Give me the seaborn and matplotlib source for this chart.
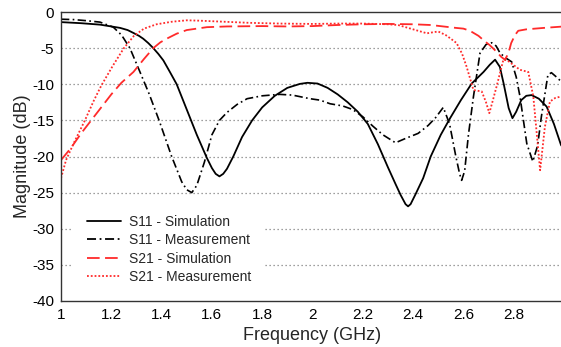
import matplotlib
matplotlib.use("Agg")
import matplotlib.pyplot as plt
import seaborn as sns

# ---- data ----
s11_sim_f = [1.00, 1.08, 1.155, 1.20, 1.235, 1.265, 1.288, 1.31, 1.327, 1.347, 1.367, 1.387, 1.407, 1.433, 1.46,
             1.50, 1.54, 1.58, 1.60, 1.615, 1.63, 1.645, 1.66, 1.685, 1.72, 1.76, 1.80, 1.85, 1.90, 1.95,
             1.98, 2.02, 2.06, 2.10, 2.14, 2.18, 2.22, 2.26, 2.30, 2.33, 2.35, 2.37, 2.38, 2.39, 2.41,
             2.44, 2.47, 2.51, 2.547, 2.59, 2.633, 2.68, 2.705, 2.726, 2.745, 2.76, 2.78, 2.795, 2.81, 2.83,
             2.85, 2.871, 2.90, 2.931, 2.96, 2.988, 3.00]
s11_sim_db = [-1.4, -1.55, -1.75, -2.0, -2.2, -2.5, -2.9, -3.3, -3.7, -4.3, -5.0, -5.8, -6.7, -8.3, -10.0,
              -13.5, -17.0, -20.2, -21.6, -22.4, -22.75, -22.4, -21.7, -20.0, -17.3, -15.0, -13.2, -11.6, -10.5, -9.95,
              -9.8, -9.9, -10.5, -11.4, -12.5, -13.8, -15.5, -18.3, -21.5, -23.8, -25.3, -26.6, -26.9, -26.6, -25.2,
              -23.0, -20.0, -17.0, -14.7, -12.2, -9.9, -8.3, -7.3, -6.6, -7.6, -9.9, -13.3, -14.7, -13.8, -12.2,
              -11.6, -11.5, -12.0, -13.1, -15.5, -18.4, -19.0]

s11_meas_f = [1.00, 1.05, 1.10, 1.155, 1.208, 1.241, 1.274, 1.314, 1.35, 1.39, 1.44, 1.48, 1.50, 1.52, 1.54,
              1.57, 1.60, 1.63, 1.66, 1.70, 1.74, 1.80, 1.87, 1.92, 1.99, 2.03, 2.07, 2.12, 2.16, 2.20,
              2.24, 2.28, 2.33, 2.37, 2.42, 2.46, 2.49, 2.52, 2.545, 2.57, 2.585, 2.593, 2.605, 2.62, 2.64,
              2.666, 2.69, 2.712, 2.73, 2.746, 2.77, 2.792, 2.81, 2.825, 2.852, 2.876, 2.895, 2.91, 2.936, 2.95,
              2.97, 2.988, 3.00]
s11_meas_db = [-1.0, -1.05, -1.2, -1.4, -2.1, -3.2, -5.0, -8.3, -11.3, -15.0, -20.0, -23.5, -24.6, -25.0, -24.0,
               -20.8, -17.0, -15.0, -13.9, -12.8, -12.0, -11.6, -11.4, -11.5, -12.0, -12.2, -12.7, -13.0, -13.5, -14.5,
               -15.8, -17.0, -18.1, -17.5, -16.8, -15.7, -14.6, -13.2, -15.5, -20.0, -22.4, -23.3, -22.0, -17.0, -11.7,
               -5.7, -4.5, -4.25, -4.7, -5.7, -6.4, -6.9, -9.0, -11.7, -18.2, -20.7, -18.5, -14.5, -8.7, -8.4,
               -9.0, -9.6, -9.7]

s21_sim_f = [1.00, 1.04, 1.08, 1.12, 1.16, 1.20, 1.24, 1.288, 1.33, 1.367, 1.395, 1.42, 1.46, 1.50, 1.58,
             1.66, 1.80, 1.90, 2.00, 2.10, 2.20, 2.30, 2.40, 2.47, 2.52, 2.57, 2.60, 2.626, 2.66, 2.68,
             2.705, 2.732, 2.75, 2.765, 2.778, 2.79, 2.805, 2.818, 2.85, 2.92, 3.00]
s21_sim_db = [-20.5, -18.8, -16.8, -15.0, -13.2, -11.4, -9.8, -8.3, -6.5, -5.0, -4.2, -3.7, -3.0, -2.5, -2.1,
              -2.0, -1.95, -2.0, -1.95, -1.8, -1.7, -1.65, -1.7, -1.8, -2.0, -2.2, -2.3, -2.6, -3.3, -3.9,
              -4.6, -5.5, -6.2, -6.6, -5.8, -4.3, -3.2, -2.6, -2.4, -2.2, -2.0]

s21_meas_f = [1.00, 1.02, 1.05, 1.095, 1.13, 1.16, 1.205, 1.25, 1.29, 1.33, 1.38, 1.44, 1.50, 1.55, 1.65,
              1.75, 1.87, 2.00, 2.10, 2.20, 2.30, 2.34, 2.38, 2.42, 2.455, 2.48, 2.50, 2.53, 2.55, 2.573,
              2.595, 2.613, 2.64, 2.673, 2.69, 2.703, 2.715, 2.732, 2.759, 2.775, 2.79, 2.825, 2.858, 2.878, 2.894,
              2.905, 2.924, 2.944, 2.965, 2.988, 3.00]
s21_meas_db = [-23.0, -20.5, -18.2, -15.0, -12.3, -10.2, -7.5, -5.0, -3.3, -2.3, -1.7, -1.35, -1.15, -1.2, -1.35,
               -1.5, -1.6, -1.65, -1.6, -1.6, -1.7, -1.8, -2.2, -2.6, -2.95, -2.8, -2.7, -3.2, -3.7, -4.3,
               -5.8, -7.6, -10.8, -11.0, -12.5, -14.0, -12.5, -10.3, -6.6, -6.7, -7.1, -8.0, -8.3, -11.7, -17.7,
               -21.9, -15.9, -12.4, -11.9, -11.7, -11.6]

labels = ["S11 - Simulation", "S11 - Measurement", "S21 - Simulation", "S21 - Measurement"]
xticks = [1, 1.2, 1.4, 1.6, 1.8, 2, 2.2, 2.4, 2.6, 2.8]
xticklabels = ["1", "1.2", "1.4", "1.6", "1.8", "2", "2.2", "2.4", "2.6", "2.8"]
yticks = [0, -5, -10, -15, -20, -25, -30, -35, -40]

# ---- style ----
sns.set_theme(style="white")
plt.rcParams["font.family"] = ["Liberation Sans", "DejaVu Sans"]
plt.rcParams["axes.unicode_minus"] = False

fig = plt.figure(figsize=(5.61, 3.47), dpi=100)
ax = fig.add_axes([61 / 561, 1 - 301 / 347, 503 / 561, 289 / 347])

series = [
    (s11_sim_f, s11_sim_db, "black", None, 1.3),
    (s11_meas_f, s11_meas_db, "black", (5, 2, 1, 2), 1.2),
    (s21_sim_f, s21_sim_db, "#ff2a2a", (7, 3), 1.3),
    (s21_meas_f, s21_meas_db, "#ff2a2a", (1, 1.1), 1.3),
]
for (f, d, c, dash, lw), lab in zip(series, labels):
    sns.lineplot(x=f, y=d, ax=ax, color=c, lw=lw, label=lab, sort=False, estimator=None)
    line = ax.get_lines()[-1]
    if dash is not None:
        line.set_dashes(dash)

for y in yticks[1:-1]:
    ax.axhline(y, color="#808080", lw=0.9, ls=(0, (1, 2.2)), zorder=0)

ax.set_xlim(1, 3)
ax.set_ylim(-40, 0)
ax.set_xticks(xticks)
ax.set_xticklabels(xticklabels)
ax.set_yticks(yticks)
ax.tick_params(axis="both", direction="in", length=3, labelsize=11, color="#888888",
               labelcolor="black", pad=5)
ax.set_xlabel("Frequency (GHz)", fontsize=13, labelpad=4)
ax.set_ylabel("Magnitude (dB)", fontsize=13, labelpad=1)
for s in ax.spines.values():
    s.set_color("#333333")
    s.set_linewidth(1.0)
ax.spines["right"].set_visible(False)

leg = ax.legend(loc="upper left", bbox_to_anchor=((73 - 61) / 503, (301 - 201) / 289),
                borderaxespad=0, frameon=True, facecolor="white", edgecolor="none", framealpha=1,
                fancybox=False, fontsize=10, borderpad=1.0,
                handlelength=2.45, handletextpad=0.6, labelspacing=0.32)
for h in leg.get_lines():
    h.set_linewidth(1.3)

fig.savefig("out.png", dpi=100)
